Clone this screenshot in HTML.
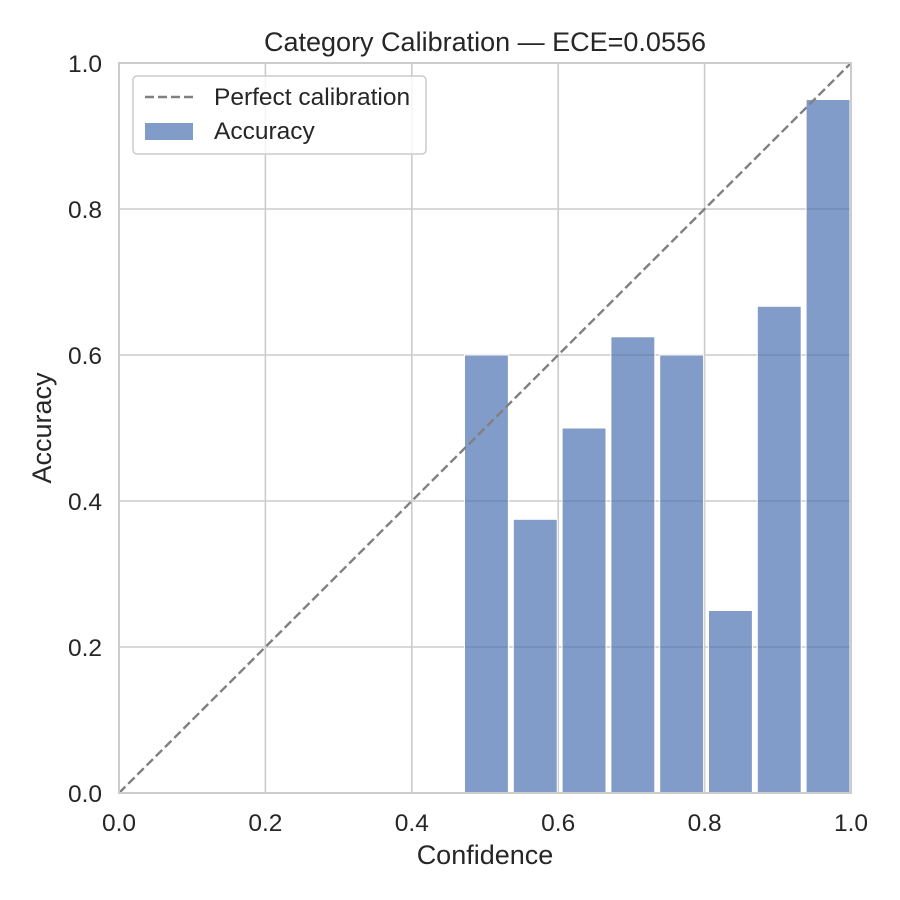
<!DOCTYPE html>
<html><head><meta charset="utf-8"><style>
html,body{margin:0;padding:0;background:#fff;}
svg{display:block;font-family:"Liberation Sans",Arial,sans-serif;}
</style></head><body>
<svg width="900" height="900" viewBox="0 0 900 900" xmlns="http://www.w3.org/2000/svg">
<rect width="900" height="900" fill="#fff"/>
<g stroke="#cccccc" stroke-width="1.6">
<line x1="265.4" y1="63" x2="265.4" y2="793"/>
<line x1="411.8" y1="63" x2="411.8" y2="793"/>
<line x1="558.2" y1="63" x2="558.2" y2="793"/>
<line x1="704.6" y1="63" x2="704.6" y2="793"/>
<line x1="119" y1="647" x2="851" y2="647"/>
<line x1="119" y1="501" x2="851" y2="501"/>
<line x1="119" y1="355" x2="851" y2="355"/>
<line x1="119" y1="209" x2="851" y2="209"/>
</g>
<g fill="#4c72b0" fill-opacity="0.7" stroke="#ffffff" stroke-width="1">
<rect x="464.5" y="355" width="43.9" height="438"/>
<rect x="513.3" y="519.3" width="43.9" height="273.7"/>
<rect x="562.1" y="428" width="43.9" height="365"/>
<rect x="610.9" y="336.8" width="43.9" height="456.2"/>
<rect x="659.7" y="355" width="43.9" height="438"/>
<rect x="708.5" y="610.5" width="43.9" height="182.5"/>
<rect x="757.3" y="306.3" width="43.9" height="486.7"/>
<rect x="806.1" y="99.5" width="43.9" height="693.5"/>
</g>
<line x1="119" y1="793" x2="851" y2="63" stroke="#808080" stroke-width="2.4" stroke-dasharray="9,4"/>
<rect x="119" y="63" width="732" height="730" fill="none" stroke="#cccccc" stroke-width="2"/>
<g font-size="24.5" fill="#262626" text-anchor="middle">
<text x="119" y="831">0.0</text>
<text x="265.4" y="831">0.2</text>
<text x="411.8" y="831">0.4</text>
<text x="558.2" y="831">0.6</text>
<text x="704.6" y="831">0.8</text>
<text x="851" y="831">1.0</text>
</g>
<g font-size="24.5" fill="#262626" text-anchor="end">
<text x="102" y="802">0.0</text>
<text x="102" y="656">0.2</text>
<text x="102" y="510">0.4</text>
<text x="102" y="364">0.6</text>
<text x="102" y="218">0.8</text>
<text x="102" y="72">1.0</text>
</g>
<text x="485" y="864" font-size="27" fill="#262626" text-anchor="middle">Confidence</text>
<text x="0" y="0" font-size="27" fill="#262626" text-anchor="middle" transform="translate(51,428) rotate(-90)">Accuracy</text>
<text x="485" y="51" font-size="27" fill="#262626" text-anchor="middle">Category Calibration — ECE=0.0556</text>
<rect x="133" y="76" width="293" height="78" rx="4" fill="#ffffff" fill-opacity="0.8" stroke="#cccccc" stroke-width="1.5"/>
<line x1="145" y1="97" x2="193" y2="97" stroke="#808080" stroke-width="2.4" stroke-dasharray="9,4"/>
<rect x="145" y="123" width="48" height="17" fill="#4c72b0" fill-opacity="0.7"/>
<g font-size="24.5" fill="#262626">
<text x="214" y="105">Perfect calibration</text>
<text x="214" y="139">Accuracy</text>
</g>
</svg>
</body></html>
